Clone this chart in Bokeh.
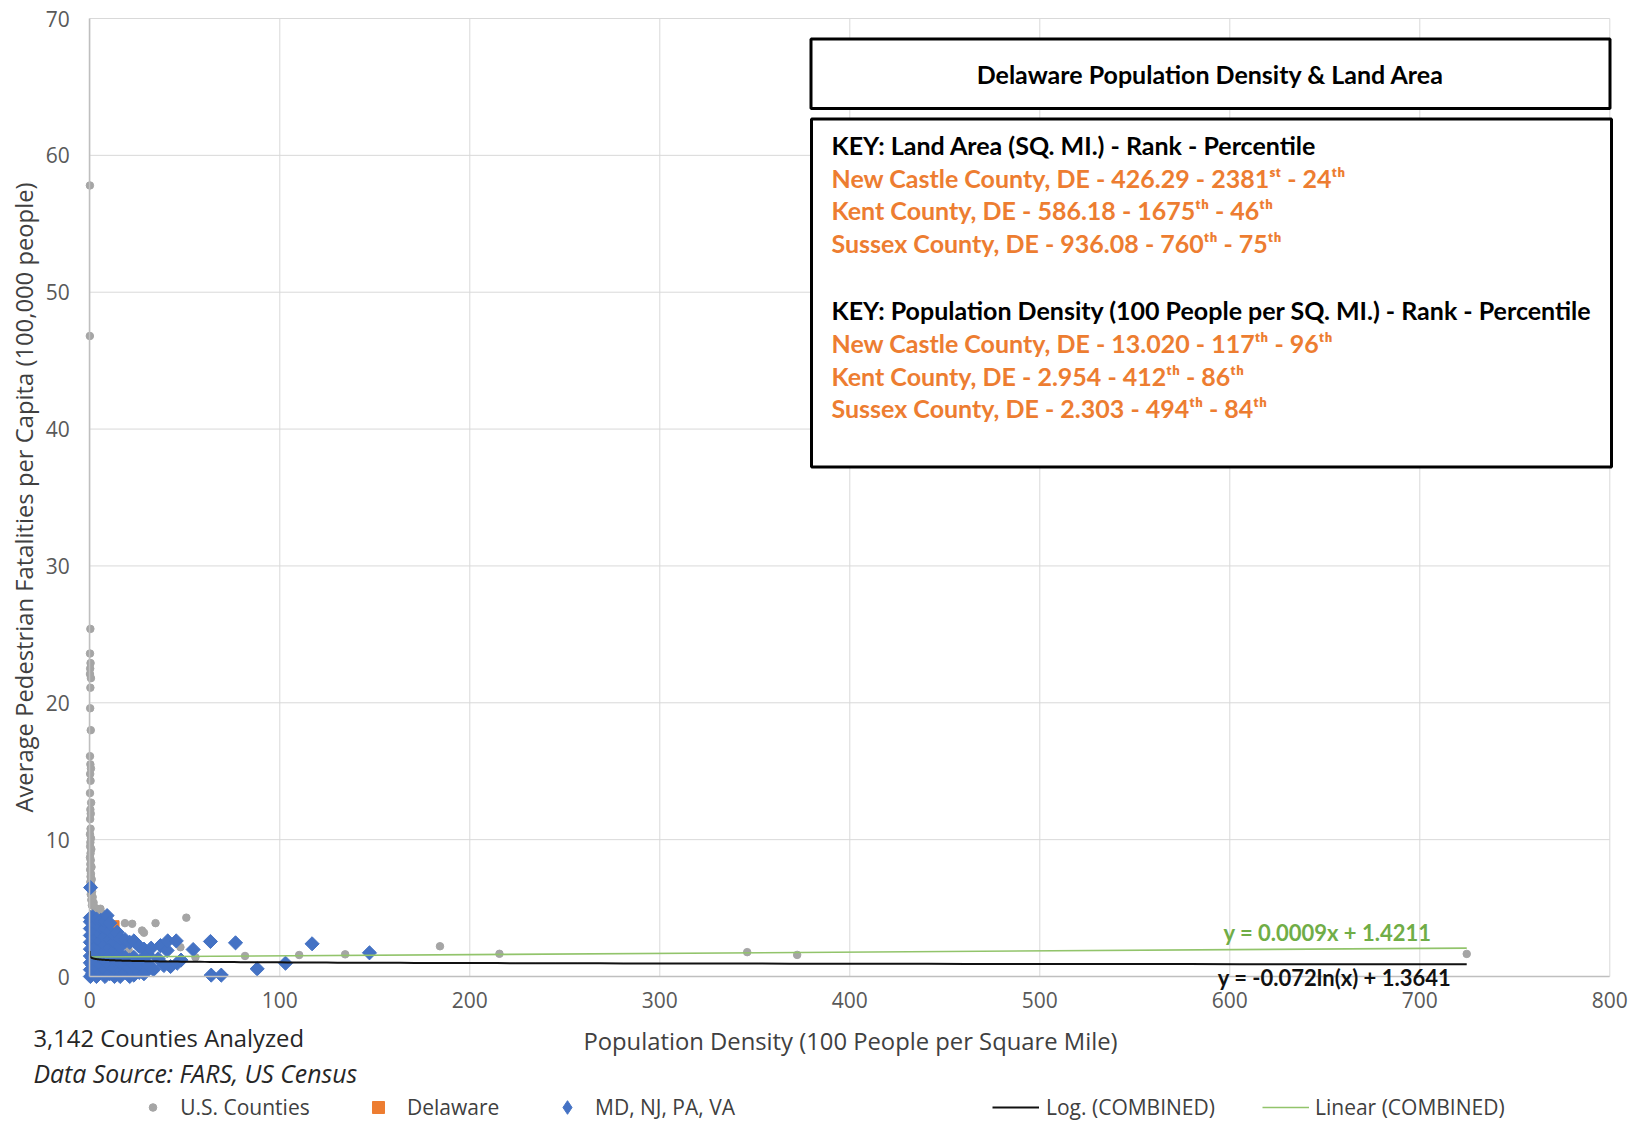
import numpy as np
from bokeh.plotting import figure
from bokeh.models import (Range1d, Label, BoxAnnotation, Legend, LegendItem, FixedTicker,
                          LinearAxis)
from bokeh.embed import file_html
from bokeh.resources import INLINE

# ---- data: population density (100 people / sq mi) vs avg pedestrian fatalities per 100k ----
us_density = [
    0.05, 0.02, 0.3, 0.1, 0.4, 0.2, 0.1, 0.6, 0.3, 0.2,
    0.5, 0.1, 0.3, 0.6, 0.2, 0.4, 0.1, 0.7, 0.3, 0.5,
    0.2, 0.4, 0.1, 0.6, 0.3, 0.2, 0.8, 0.4, 0.1, 0.5,
    0.3, 0.9, 0.2, 0.6, 0.4, 1.0, 0.3, 0.7, 1.2, 0.5,
    1.5, 0.8, 2.0, 1.1, 5.6, 3.0, 4.0, 2.5, 6.5, 1.8,
    18.5, 22.3, 27.5, 28.5, 34.6, 50.8, 47.7, 55.6, 20.5, 26.7,
    24.0, 16.0, 12.0, 8.0, 4.0, 30.0, 10.0, 2.0, 6.0,
    81.7, 110.2, 134.4, 184.3, 215.6, 346.0, 372.3, 724.7,
]
us_fatal = [
    57.8, 46.8, 25.4, 23.6, 22.9, 22.5, 22.1, 21.8, 21.1, 19.6,
    18.0, 16.1, 15.5, 15.2, 14.8, 14.3, 13.4, 12.7, 12.2, 11.9,
    11.5, 10.8, 10.4, 10.1, 9.8, 9.5, 9.3, 9.0, 8.7, 8.5,
    8.2, 8.0, 7.8, 7.5, 7.3, 7.1, 6.9, 6.7, 6.2, 6.0,
    5.8, 5.6, 5.4, 5.2, 4.95, 5.0, 4.8, 4.7, 4.6, 4.6,
    3.9, 3.85, 3.36, 3.2, 3.9, 4.3, 2.14, 1.4, 1.9, 0.6,
    1.3, 1.1, 0.4, 2.0, 1.5, 1.0, 2.0, 1.0, 3.0,
    1.5, 1.57, 1.62, 2.21, 1.66, 1.78, 1.58, 1.65,
]

de_density = [13.020, 2.954, 2.303]
de_fatal = [3.75, 3.1, 3.5]

nb_density = [
    0.3, 0.3, 0.3, 0.3, 0.3, 0.3, 0.3, 0.3, 0.3, 0.3, 0.4,
    1.5, 1.5, 1.5, 1.5, 1.5, 1.5, 1.5, 1.5, 1.5,
    3.5, 3.5, 3.5, 3.5, 3.5, 3.5, 3.5, 3.5, 3.5,
    5.8, 5.8, 5.8, 5.8, 5.8, 5.8, 5.8, 5.8,
    8.0, 8.0, 8.0, 8.0, 8.0, 8.0, 8.0, 8.0, 9.1,
    10.5, 10.5, 10.5, 10.5, 10.5, 10.5, 10.5,
    13.0, 13.0, 13.0, 13.0, 13.0, 13.0, 14.4,
    16.0, 16.0, 16.0, 16.0, 16.0, 16.0,
    18.5, 18.5, 18.5, 18.5,
    21.0, 21.0, 21.0, 21.0,
    23.2, 23.2, 23.2, 23.2,
    26.0, 26.0, 26.0,
    28.5, 28.5, 28.5,
    30.5, 30.5,
    32.3, 37.2, 40.7, 41.0, 45.5, 54.4, 39.0, 42.5, 46.0, 33.5, 36.0, 48.0,
    63.5, 76.7, 117.0, 147.2, 103.0, 88.1, 63.9, 69.2,
]
nb_fatal = [
    0.0, 0.5, 1.0, 1.5, 2.0, 2.5, 3.0, 3.5, 4.0, 4.3, 6.5,
    0.2, 0.8, 1.3, 1.9, 2.4, 2.9, 3.4, 3.9, 4.35,
    0.0, 0.6, 1.1, 1.7, 2.2, 2.8, 3.3, 3.8, 4.2,
    0.3, 0.9, 1.4, 2.0, 2.6, 3.1, 3.6, 4.1,
    0.0, 0.5, 1.2, 1.8, 2.3, 2.9, 3.5, 4.0, 4.45,
    0.2, 0.8, 1.5, 2.1, 2.7, 3.3, 3.9,
    0.0, 0.6, 1.2, 1.9, 2.5, 3.0, 3.24,
    0.0, 0.4, 1.0, 1.6, 2.2, 2.8,
    0.3, 0.9, 1.4, 2.7,
    0.0, 0.6, 1.2, 2.5,
    0.1, 0.8, 1.4, 2.6,
    0.3, 0.9, 2.2,
    0.2, 1.4, 2.0,
    0.9, 1.6,
    2.07, 2.26, 1.9, 2.6, 2.6, 1.97, 0.8, 0.73, 0.97, 0.5, 1.3, 1.2,
    2.56, 2.46, 2.39, 1.73, 0.97, 0.56, 0.1, 0.1,
]

# trendline coefficients for the combined series
lin_slope, lin_intercept = 0.0009, 1.4211
log_coef, log_intercept = -0.072, 1.3641
trend_x_min, trend_x_max = 0.001, 724.7

x_ticks = [0, 100, 200, 300, 400, 500, 600, 700, 800]
y_ticks = [0, 10, 20, 30, 40, 50, 60, 70]

land_key = [
    "New Castle County, DE - 426.29 - 2381ˢᵗ - 24ᵗʰ",
    "Kent County, DE - 586.18 - 1675ᵗʰ - 46ᵗʰ",
    "Sussex County, DE - 936.08 - 760ᵗʰ - 75ᵗʰ",
]
density_key = [
    "New Castle County, DE - 13.020 - 117ᵗʰ - 96ᵗʰ",
    "Kent County, DE - 2.954 - 412ᵗʰ - 86ᵗʰ",
    "Sussex County, DE - 2.303 - 494ᵗʰ - 84ᵗʰ",
]

FONT = "Open Sans"
KEY_FONT = "Lato"
GRAY, ORANGE, BLUE = "#A5A5A5", "#ED7D31", "#4472C4"
GREEN_LINE, GREEN_TEXT = "#92C46B", "#70AD47"
GRID, AXIS = "#D9D9D9", "#BFBFBF"

W, H = 1629, 1121
# chart area on the page (pixels)
FL, FR, FT, FB = 89.3, 1609.3, 18.0, 976.0
XMAX, YMAX = 800.0, 70.0


def dx(px):
    return (px - FL) / (FR - FL) * XMAX


def dy(py):
    return (FB - py) / (FB - FT) * YMAX


# the frame spans the whole canvas so notes, legend and labels around the chart are not clipped
p = figure(width=W, height=H, x_range=Range1d(dx(0), dx(W)), y_range=Range1d(dy(H), dy(0)),
           x_axis_location=None, y_axis_location=None, min_border=0,
           output_backend="svg", toolbar_location=None)
p.outline_line_color = None
p.background_fill_color = "white"
p.border_fill_color = "white"
p.xgrid.visible = False
p.ygrid.visible = False

# gridlines over the chart area
p.segment(x0=x_ticks, y0=[0] * len(x_ticks), x1=x_ticks, y1=[YMAX] * len(x_ticks),
          line_color=GRID, line_width=1)
p.segment(x0=[0] * len(y_ticks), y0=y_ticks, x1=[XMAX] * len(y_ticks), y1=y_ticks,
          line_color=GRID, line_width=1)

xaxis = LinearAxis(fixed_location=0, bounds=(0, XMAX), ticker=FixedTicker(ticks=x_ticks))
yaxis = LinearAxis(fixed_location=0, bounds=(0, YMAX), ticker=FixedTicker(ticks=y_ticks))
for ax in (xaxis, yaxis):
    ax.major_tick_line_color = None
    ax.minor_tick_line_color = None
    ax.major_tick_out = 0
    ax.major_tick_in = 0
    ax.minor_tick_out = 0
    ax.minor_tick_in = 0
    ax.axis_line_color = AXIS
    ax.axis_line_width = 1.5
    ax.major_label_text_font = FONT
    ax.major_label_text_font_size = "21px"
    ax.major_label_text_color = "#595959"
xaxis.major_label_standoff = 15
yaxis.major_label_standoff = 20
p.add_layout(xaxis, "below")
p.add_layout(yaxis, "left")

# axis titles
p.add_layout(Label(x=dx(850), y=dy(1040), text="Population Density (100 People per Square Mile)",
                   text_align="center", text_baseline="middle", text_font=FONT,
                   text_font_size="23.8px", text_color="#404040"))
p.add_layout(Label(x=dx(23), y=dy(497),
                   text="Average Pedestrian Fatalities per Capita (100,000 people)",
                   angle=np.pi / 2, text_align="center", text_baseline="middle", text_font=FONT,
                   text_font_size="23.8px", text_color="#404040"))

# series
us_r = p.scatter(us_density, us_fatal, marker="circle", size=7.5, fill_color=GRAY, line_color=GRAY)
de_r = p.scatter(de_density, de_fatal, marker="square", size=9, fill_color=ORANGE, line_color=ORANGE)
nb_r = p.scatter(nb_density, nb_fatal, marker="square", angle=np.pi / 4, size=10,
                 fill_color=BLUE, line_color=BLUE)

# trendlines
lin_x = np.array([trend_x_min, trend_x_max])
lin_r = p.line(lin_x, lin_slope * lin_x + lin_intercept, line_color=GREEN_LINE, line_width=1.6)
log_x = np.geomspace(trend_x_min, trend_x_max, 300)
log_r = p.line(log_x, log_coef * np.log(log_x) + log_intercept, line_color="#111111", line_width=2)

p.add_layout(Label(x=dx(1327), y=dy(932), text=f"y = {lin_slope}x + {lin_intercept}",
                   text_align="center", text_baseline="middle", text_font=KEY_FONT,
                   text_font_style="bold", text_font_size="22px", text_color=GREEN_TEXT))
p.add_layout(Label(x=dx(1334), y=dy(977), text=f"y = {log_coef}ln(x) + {log_intercept}",
                   text_align="center", text_baseline="middle", text_font=KEY_FONT,
                   text_font_style="bold", text_font_size="22px", text_color="#111111"))

# key boxes
for l, r, t, b in ((810.5, 1609.5, 38.5, 108), (811, 1611, 118.5, 466.5)):
    p.add_layout(BoxAnnotation(left=dx(l), right=dx(r), top=dy(t), bottom=dy(b),
                               fill_color="white", fill_alpha=1,
                               line_color="black", line_alpha=1, line_width=3))


def key_text(text, px, py, color="black", align="left"):
    p.add_layout(Label(x=dx(px), y=dy(py), text=text, text_align=align, text_baseline="middle",
                       text_font=KEY_FONT, text_font_style="bold", text_font_size="25px",
                       text_color=color))


key_text("Delaware Population Density & Land Area", 1210, 73.5, align="center")
key_text("KEY: Land Area (SQ. MI.) - Rank - Percentile", 831, 144.5)
for i, line in enumerate(land_key):
    key_text(line, 831, 177 + i * 32.6, color=ORANGE)
key_text("KEY: Population Density (100 People per SQ. MI.) - Rank - Percentile", 831, 309.8)
for i, line in enumerate(density_key):
    key_text(line, 831, 342.4 + i * 32.6, color=ORANGE)

# notes under the chart
p.add_layout(Label(x=dx(33), y=dy(1037), text="3,142 Counties Analyzed", text_baseline="middle",
                   text_font=FONT, text_font_size="23.8px", text_color="#262626"))
p.add_layout(Label(x=dx(33), y=dy(1072), text="Data Source: FARS, US Census", text_baseline="middle",
                   text_font=FONT, text_font_size="24.8px", text_font_style="italic",
                   text_color="#262626"))

# legend swatches (hidden one-point copies of each series, drawn only in the legend)
sw_us = p.scatter(us_density[:1], us_fatal[:1], marker="circle",
                  fill_color=GRAY, line_color=GRAY, visible=False)
sw_de = p.scatter(de_density[:1], de_fatal[:1], marker="square",
                  fill_color=ORANGE, line_color=ORANGE, visible=False)
sw_nb = p.scatter(nb_density[:1], nb_fatal[:1], marker="diamond",
                  fill_color=BLUE, line_color=BLUE, visible=False)

LEG_CY = 1106.5


def add_legend(renderer, label, left_px, gw, gh, standoff):
    leg = Legend(items=[LegendItem(label=label, renderers=[renderer])],
                 location=(left_px, H - LEG_CY - gh / 2),
                 orientation="horizontal", padding=0, margin=0, spacing=0,
                 glyph_width=gw, glyph_height=gh, label_height=28, label_standoff=standoff,
                 border_line_color=None, background_fill_alpha=0, click_policy="none",
                 label_text_font=FONT, label_text_font_size="21px", label_text_color="#404040")
    p.add_layout(leg)


add_legend(sw_us, "U.S. Counties", 143.2, 19, 28, 18)
add_legend(sw_de, "Delaware", 363, 30, 30, 14)
add_legend(sw_nb, "MD, NJ, PA, VA", 550, 34, 34, 11)
add_legend(log_r, "Log. (COMBINED)", 992, 47, 28, 7)
add_legend(lin_r, "Linear (COMBINED)", 1262, 47, 28, 6)

open("out.html", "w").write(file_html(p, INLINE))
